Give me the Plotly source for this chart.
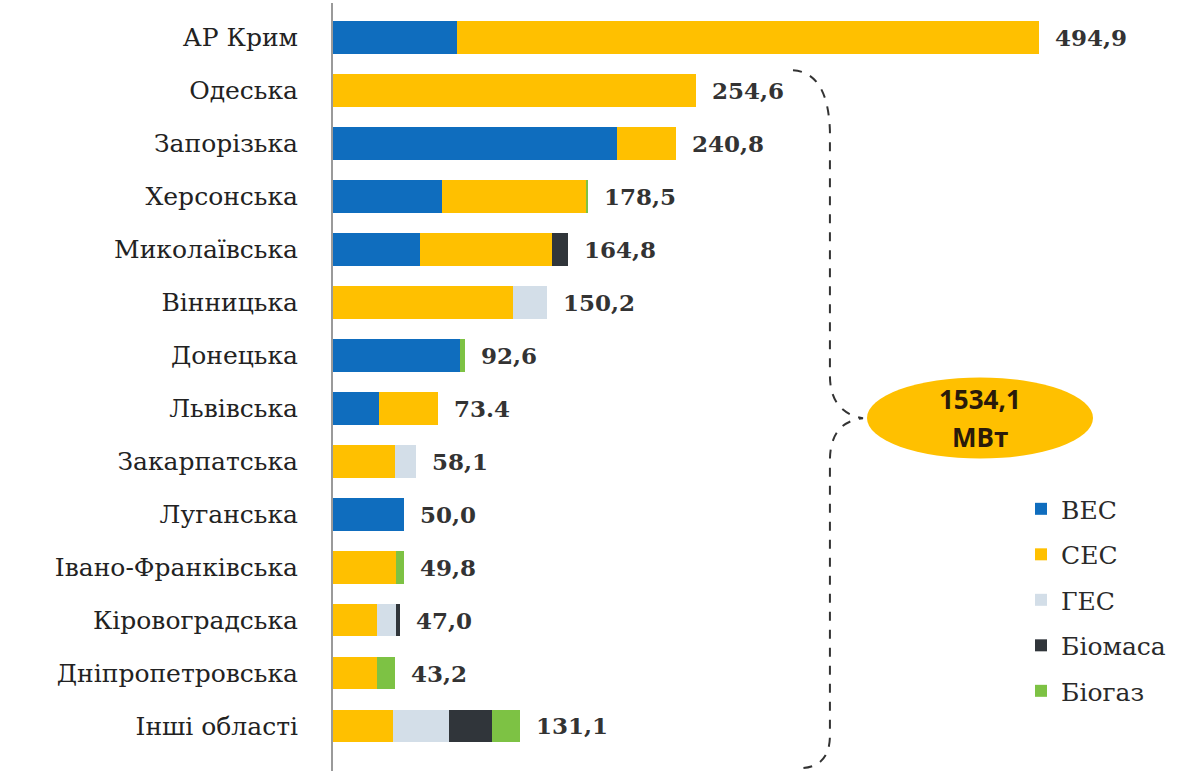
import plotly.graph_objects as go

# Installed renewable capacity by region, MW, split by generation type
regions = [
    "АР Крим", "Одеська", "Запорізька", "Херсонська", "Миколаївська",
    "Вінницька", "Донецька", "Львівська", "Закарпатська", "Луганська",
    "Івано-Франківська", "Кіровоградська", "Дніпропетровська", "Інші області",
]
wind    = [87.0, 0.0, 199.0, 76.3, 61.0, 0.0, 89.0, 32.5, 0.0, 50.0, 0.0, 0.0, 0.0, 0.0]
solar   = [407.9, 254.6, 41.8, 101.5, 92.5, 126.5, 0.0, 40.9, 43.5, 0.0, 44.5, 30.7, 31.0, 41.9]
hydro   = [0.0, 0.0, 0.0, 0.0, 0.0, 23.7, 0.0, 0.0, 14.6, 0.0, 0.0, 13.5, 0.0, 39.7]
biomass = [0.0, 0.0, 0.0, 0.0, 11.3, 0.0, 0.0, 0.0, 0.0, 0.0, 0.0, 2.8, 0.0, 29.8]
biogas  = [0.0, 0.0, 0.0, 0.7, 0.0, 0.0, 3.6, 0.0, 0.0, 0.0, 5.3, 0.0, 12.2, 19.7]
totals  = [494.9, 254.6, 240.8, 178.5, 164.8, 150.2, 92.6, 73.4, 58.1, 50.0, 49.8, 47.0, 43.2, 131.1]
total_labels = ["494,9", "254,6", "240,8", "178,5", "164,8", "150,2", "92,6",
                "73.4", "58,1", "50,0", "49,8", "47,0", "43,2", "131,1"]
bracket_total = "1534,1"
bracket_unit = "МВт"

series = [
    ("ВЕС", wind, "#0F6DBE"),
    ("СЕС", solar, "#FFC000"),
    ("ГЕС", hydro, "#D3DEE8"),
    ("Біомаса", biomass, "#30353A"),
    ("Біогаз", biogas, "#7DC244"),
]

serif = "DejaVu Serif"
ypos = list(range(len(regions)))

fig = go.Figure()
for name, vals, color in series:
    fig.add_trace(go.Bar(
        y=ypos, x=vals, name=name, orientation="h",
        marker=dict(color=color, line=dict(width=0)),
        legendgroup=name, hoverinfo="x+name",
    ))

# Value labels at the end of each bar
for yi, (tot, lab) in enumerate(zip(totals, total_labels)):
    fig.add_annotation(x=tot, y=yi, text="<b>" + lab + "</b>", showarrow=False,
                       xanchor="left", xshift=14,
                       font=dict(family=serif, size=23, color="#333333"))

# Dashed curly brace around all regions except Crimea
brace = ("M 322.6 0.62 Q 347.1 0.66 348.5 1.76 L 348.5 6.38 "
         "Q 348.5 7.08 371.7 7.19 Q 348.5 7.26 348.5 7.99 "
         "L 348.5 13.18 Q 348.5 13.8 326.1 13.8")
fig.add_shape(type="path", path=brace, xref="x", yref="y",
              line=dict(color="#333333", width=2, dash="dash"))
fig.add_shape(type="circle", xref="x", yref="y",
              x0=374.5, x1=533.0, y0=6.42, y1=7.95,
              fillcolor="#FFC000", line=dict(width=0))
fig.add_annotation(x=453.7, y=6.83, text="<b>" + bracket_total + "</b>", showarrow=False,
                   font=dict(family="Open Sans", size=26, color="#2a1a0a"))
fig.add_annotation(x=453.7, y=7.55, text="<b>" + bracket_unit + "</b>", showarrow=False,
                   font=dict(family="Open Sans", size=26, color="#2a1a0a"))

fig.update_layout(
    width=1197, height=771,
    margin=dict(l=333, r=27, t=3, b=0),
    paper_bgcolor="white", plot_bgcolor="white",
    barmode="stack", bargap=0.38,
    showlegend=True,
    legend=dict(x=0.822, y=0.371, xanchor="left", yanchor="top",
                traceorder="grouped", tracegroupgap=10,
                itemwidth=30,
                font=dict(family=serif, size=25, color="#2a2a2a"),
                bgcolor="rgba(0,0,0,0)"),
    xaxis=dict(range=[0, 587], visible=False, fixedrange=True),
    yaxis=dict(range=[13.85, -0.65], tickmode="array", tickvals=ypos,
               ticktext=regions, showgrid=False, zeroline=False,
               showline=True, linecolor="#9a9a9a", linewidth=2,
               ticks="outside", ticklen=28, tickcolor="rgba(0,0,0,0)",
               tickfont=dict(family=serif, size=25, color="#222222")),
)

fig.write_html("out.html")
